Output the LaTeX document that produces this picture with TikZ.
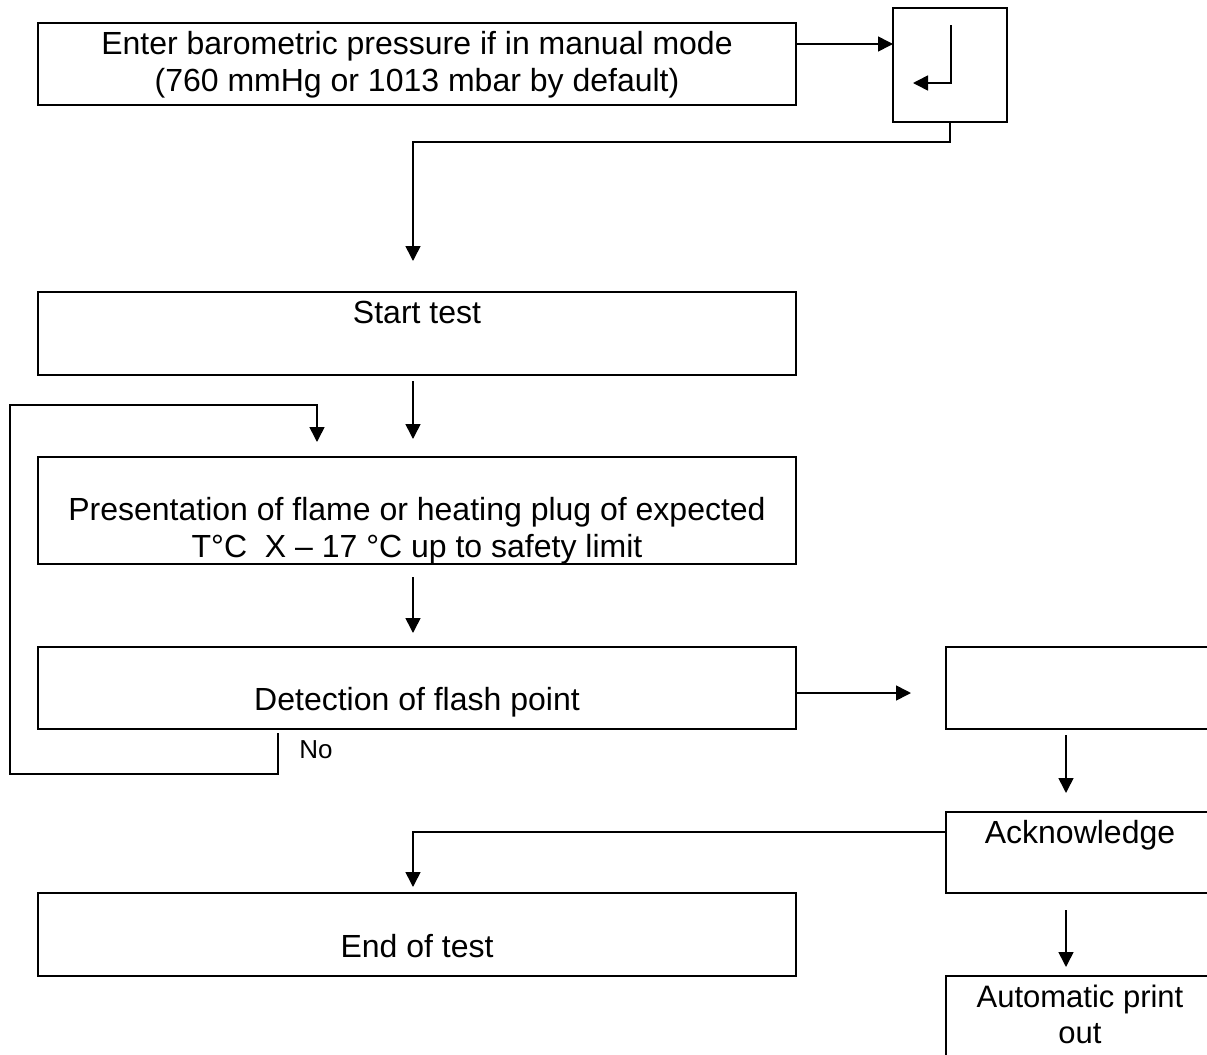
\documentclass[tikz,border=0pt]{standalone}
\usepackage{fontspec}
\setmainfont{Liberation Sans}
\usetikzlibrary{arrows.meta}
\begin{document}
\begin{tikzpicture}[x=0.5pt,y=-0.5pt,
  box/.style={draw,line width=0.8pt,anchor=north west,inner sep=0pt,outer sep=0pt},
  txt/.style={font=\fontsize{16}{18.5}\selectfont,align=center,inner sep=0pt},
  arr/.style={line width=0.8pt,-{Triangle[length=7.5pt,width=7.5pt]}},
  ln/.style={line width=0.8pt}]
\useasboundingbox (0,0) rectangle (1207,1055);
\clip (0,0) rectangle (1207,1055);
% boxes
\node[box,minimum width=379pt,minimum height=41pt] (box1) at (38,23) {};
\node[box,minimum width=57pt,minimum height=57pt] (enter) at (893,8) {};
\node[box,minimum width=379pt,minimum height=41.5pt] (start) at (38,292) {};
\node[box,minimum width=379pt,minimum height=53.5pt] (pres) at (38,457) {};
\node[box,minimum width=379pt,minimum height=41pt] (detect) at (38,647) {};
\node[box,minimum width=134pt,minimum height=41pt] (rbox) at (946,647) {};
\node[box,minimum width=134pt,minimum height=40.5pt] (ack) at (946,812) {};
\node[box,minimum width=379pt,minimum height=41.5pt] (endt) at (38,893) {};
\node[box,minimum width=134pt,minimum height=60pt] (auto) at (946,976) {};
% texts
\node[txt] (t1txt) at (417,65) {Enter barometric pressure if in manual mode\\(760 mmHg or 1013 mbar by default)};
\node[txt] (t2txt) at (417,312) {Start test};
\node[txt] (t3txt) at (417,531) {Presentation of flame or heating plug of expected\\T°C\ \ X – 17 °C up to safety limit};
\node[txt] (t4txt) at (417,702) {Detection of flash point};
\node[txt] (t5txt) at (1080,835) {Acknowledge};
\node[txt] (t6txt) at (417,946) {End of test};
\node[txt,font=\fontsize{15.5}{18}\selectfont] (t7txt) at (1080,1014) {Automatic print\\out};
\node[txt,font=\fontsize{13}{15}\selectfont] (notxt) at (316,750) {No};
% enter key glyph
\draw[arr] (951,25) -- (951,83) -- (913,83);
% coordinates
\coordinate (c1) at (413,261);
\coordinate (loopc) at (10,405);
\coordinate (c2) at (317,442);
\coordinate (c3) at (413,887);
% connectors
\draw[arr] ([yshift=10pt]box1.east) -- ([yshift=10pt]box1.east -| enter.west);
\draw[arr] (enter.south) -- ++(0,20) -| (c1);
\draw[arr] ([xshift=-2pt,yshift=-3pt]start.south) -- ([xshift=-2pt,yshift=9pt]pres.north);
\draw[arr] ([xshift=-2pt,yshift=-6.5pt]pres.south) -- ([xshift=-2pt,yshift=7pt]detect.north);
\draw[arr] ([xshift=-69.5pt,yshift=-2pt]detect.south) -- ++(0,41) -| (loopc) -| (c2);
\draw[arr] ([yshift=-2.5pt]detect.east) -- ([yshift=-2.5pt,xshift=-17.5pt]rbox.west);
\draw[arr] ([xshift=-7pt,yshift=-3pt]rbox.south) -- ([xshift=-7pt,yshift=9.5pt]ack.north);
\draw[arr] ([yshift=10.25pt]ack.west) -| (c3);
\draw[arr] ([xshift=-7pt,yshift=-8.5pt]ack.south) -- ([xshift=-7pt,yshift=4.5pt]auto.north);
\end{tikzpicture}
\end{document}
